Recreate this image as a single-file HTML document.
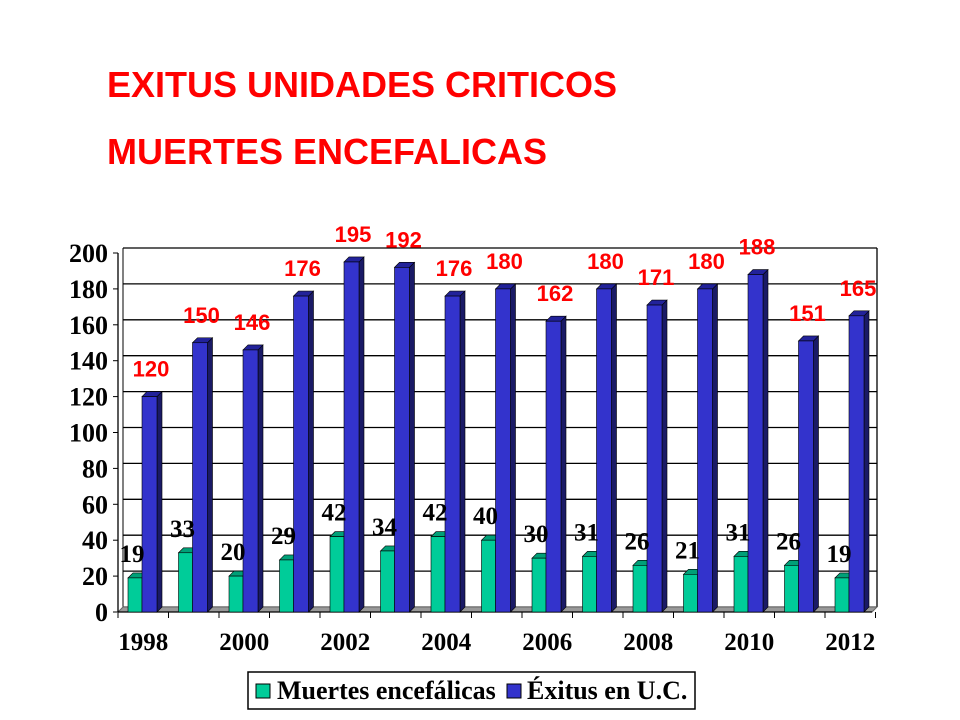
<!DOCTYPE html>
<html><head><meta charset="utf-8"><style>
body{margin:0;background:#fff;width:960px;height:720px;overflow:hidden}
.t{position:absolute;left:107px;color:#f00;font:bold 36px "Liberation Sans",sans-serif;margin:0;white-space:nowrap}
</style></head><body>
<div class="t" style="top:64px">EXITUS UNIDADES CRITICOS</div>
<div class="t" style="top:131px">MUERTES ENCEFALICAS</div>
<svg id="c" width="960" height="720" style="position:absolute;left:0;top:0"></svg>
<script>
const years=[1998,1999,2000,2001,2002,2003,2004,2005,2006,2007,2008,2009,2010,2011,2012];
const muertes=[19,33,20,29,42,34,42,40,30,31,26,21,31,26,19];
const exitus=[120,150,146,176,195,192,176,180,162,180,171,180,188,151,165];
const yTicks=[0,20,40,60,80,100,120,140,160,180,200];
const xLabels=[1998,2000,2002,2004,2006,2008,2010,2012];
const NS="http://www.w3.org/2000/svg";
const svg=document.getElementById('c');
const x0=118,gw=50.5,y0=612,ys=1.795,D=5;
const Y=v=>y0-v*ys;
const X=i=>x0+i*gw;
function mk(tag,a,p){const e=document.createElementNS(NS,tag);for(const k in a)e.setAttribute(k,a[k]);(p||svg).appendChild(e);return e;}
yTicks.forEach(v=>{
const l=mk('line',{x1:x0+D,x2:877,y1:Y(v)-D,y2:Y(v)-D,stroke:'#000','stroke-width':1.3});


const t=mk('text',{x:108,y:Y(v)+9,'text-anchor':'end','font-family':'Liberation Serif','font-weight':'bold','font-size':26});
t.textContent=v;


mk('line',{x1:x0-5,x2:x0,y1:Y(v),y2:Y(v),stroke:'#000'});
});
mk('line',{x1:877,x2:877,y1:Y(200)-D,y2:y0-D,stroke:'#000','stroke-width':1.3});
mk('line',{x1:x0+D,x2:x0+D,y1:Y(200)-D,y2:y0-D,stroke:'#000'});
mk('polygon',{points:`${x0},${y0} ${x0+D},${y0-D} 877,${y0-D} 872,${y0}`,fill:'#999',stroke:'#666'});
mk('line',{x1:x0,x2:x0,y1:Y(200),y2:y0,stroke:'#000','stroke-width':1.3});
mk('line',{x1:x0,x2:872,y1:y0,y2:y0,stroke:'#000','stroke-width':1.3});
for(let i=0;i<=years.length;i++)mk('line',{x1:X(i),x2:X(i),y1:y0,y2:y0+6,stroke:'#000'});
function bar(x,w,v,front,side,top,name){
const g=mk('g',{});


const yt=Y(v);
mk('polygon',{points:`${x+w},${yt} ${x+w+D},${yt-D} ${x+w+D},${y0-D} ${x+w},${y0}`,fill:side,stroke:'#000','stroke-width':0.6},g);
mk('polygon',{points:`${x},${yt} ${x+D},${yt-D} ${x+w+D},${yt-D} ${x+w},${yt}`,fill:top,stroke:'#000','stroke-width':0.6},g);
mk('rect',{x:x,y:yt,width:w,height:y0-yt,fill:front,stroke:'#000','stroke-width':0.6},g);
}
years.forEach((yr,i)=>{
const gx=X(i);
bar(gx+10,14,muertes[i],'#00cc99','#008060','#00a078','bar-muertes-'+yr);
bar(gx+24,15,exitus[i],'#3333cc','#1a1a66','#22229a','bar-exitus-'+yr);
const a=mk('text',{x:gx+33,y:Y(exitus[i])-20,'text-anchor':'middle','font-family':'Liberation Sans','font-weight':'bold','font-size':22,fill:'#f00'});
a.textContent=exitus[i];


const b=mk('text',{x:gx+14,y:Y(muertes[i])-16,'text-anchor':'middle','font-family':'Liberation Serif','font-weight':'bold','font-size':25,fill:'#000'});
b.textContent=muertes[i];


});
xLabels.forEach(yr=>{
const i=years.indexOf(yr);
const t=mk('text',{x:X(i)+gw/2,y:650,'text-anchor':'middle','font-family':'Liberation Serif','font-weight':'bold','font-size':25});
t.textContent=yr;


});
const lg=mk('g',{});


mk('rect',{x:248,y:672,width:447,height:37,fill:'#fff',stroke:'#000','stroke-width':1.5},lg);
mk('rect',{x:256,y:684,width:14,height:14,fill:'#00cc99',stroke:'#000'},lg);
let t1=mk('text',{x:277,y:699,'font-family':'Liberation Serif','font-weight':'bold','font-size':26},lg);t1.textContent='Muertes encefálicas';


mk('rect',{x:507,y:684,width:14,height:14,fill:'#3333cc',stroke:'#000'},lg);
let t2=mk('text',{x:527,y:699,'font-family':'Liberation Serif','font-weight':'bold','font-size':26},lg);t2.textContent='Éxitus en U.C.';


</script>
</body></html>
